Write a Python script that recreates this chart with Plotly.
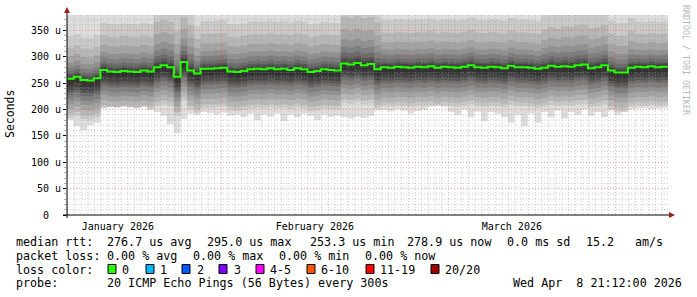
import plotly.graph_objects as go
import pandas as pd

W, H = 697, 297
PX_L, PX_R, PX_T, PX_B = 67, 668, 15, 215

start = pd.Timestamp("2026-01-08 21:12")
end = pd.Timestamp("2026-04-08 21:12")
YMAX = 379

# daily median rtt (microseconds)
median_us = [258, 262, 256, 255, 259, 275, 272, 271, 273, 272,
             271, 274, 272, 280, 284, 280, 262, 290, 274, 268,
             277, 277, 278, 279, 272, 271, 273, 276, 277, 276,
             278, 276, 277, 275, 278, 276, 271, 273, 276, 275,
             274, 287, 285, 288, 284, 286, 276, 280, 279, 281,
             280, 279, 281, 280, 282, 279, 281, 280, 279, 281,
             284, 280, 279, 281, 280, 278, 283, 280, 280, 279,
             277, 279, 283, 281, 282, 281, 284, 285, 278, 280,
             284, 274, 270, 270, 279, 281, 280, 282, 280, 281, 280]

# daily lowest ping (lower edge of the smoke)
min_us = [180, 168, 160, 170, 175, 203, 205, 204, 206, 204,
          203, 205, 200, 195, 188, 172, 155, 182, 192, 190,
          195, 193, 190, 194, 188, 190, 185, 192, 180, 190,
          186, 192, 178, 190, 185, 192, 188, 180, 190, 186,
          188, 185, 183, 186, 184, 188, 198, 199, 196, 200,
          198, 192, 197, 199, 205, 207, 205, 195, 190, 200,
          185, 196, 178, 195, 192, 185, 175, 190, 168, 192,
          175, 195, 185, 198, 183, 195, 190, 200, 188, 195,
          185, 198, 190, 195, 200, 202, 203, 201, 202, 203, 203]

# daily upward spread of the smoke (1.0 = typical)
spread_up = [0.9, 0.9, 0.9, 0.9, 0.9, 1.0, 1.0, 1.0, 1.0, 1.0,
             1.0, 1.0, 1.0, 1.3, 1.3, 1.3, 1.3, 1.3, 1.3, 1.0,
             1.0, 1.0, 1.0, 1.0, 1.0, 1.0, 1.0, 1.0, 1.0, 1.0,
             1.0, 1.0, 1.0, 1.0, 1.0, 1.0, 1.0, 1.0, 1.0, 1.0,
             1.0, 1.35, 1.35, 1.35, 1.35, 1.35, 1.35, 1.0, 1.0, 1.0,
             1.0, 1.0, 1.0, 1.0, 1.0, 1.0, 1.0, 1.0, 1.0, 1.0,
             1.0, 1.0, 1.0, 1.0, 1.0, 1.0, 1.0, 1.0, 1.0, 1.0,
             1.0, 1.1, 1.1, 1.1, 1.15, 1.15, 1.15, 1.15, 1.15, 1.15,
             1.15, 1.05, 1.05, 1.05, 1.05, 0.95, 0.95, 0.95, 0.95, 0.95, 0.95]

# typical ping distribution around the median (us): pings 2..10 below, 11..20 above
lo_offsets = [74, 67, 57, 47, 39, 30, 25, 20, 12]
hi_offsets = [2, 6, 10, 16, 24, 34, 48, 66, 90, 160]

yticks = [0, 50, 100, 150, 200, 250, 300, 350]
ytick_text = ["0\u00a0\u00a0", "50 u", "100 u", "150 u", "200 u", "250 u", "300 u", "350 u"]
month_labels = ["January 2026", "February 2026", "March 2026"]
month_mid = ["2026-01-16 12:00", "2026-02-15 00:00", "2026-03-16 12:00"]
month_starts = ["2026-02-01", "2026-03-01", "2026-04-01"]

stats_line1 = [(16, "median rtt:"), (107, "276.7 us avg"), (207, "295.0 us max"),
               (310, "253.3 us min"), (407, "278.9 us now"), (507, "0.0 ms sd"),
               (586, "15.2"), (635, "am/s")]
stats_line2 = [(16, "packet loss:"), (107, "0.00 % avg"), (193, "0.00 % max"),
               (279, "0.00 % min"), (365, "0.00 % now")]
loss_labels = ["0", "1", "2", "3", "4-5", "6-10", "11-19", "20/20"]
loss_colors = ["#26ff00", "#00b8ff", "#0059ff", "#7e00ff", "#ff00ff", "#ff5500", "#ff0000", "#a00000"]
loss_box_x = [108, 146, 182, 219, 256, 307, 366, 431]
loss_text_x = [122, 160, 197, 234, 270, 321, 380, 445]
probe_text = "20 ICMP Echo Pings (56 Bytes) every 300s"
stamp_text = "Wed Apr  8 21:12:00 2026"

dates = [start + pd.Timedelta(days=d) for d in range(len(median_us))]

# build sorted ping levels per day
n = len(median_us)
pings = [[min_us[i] for i in range(n)]]
for off in lo_offsets:
    pings.append([max(min_us[i], median_us[i] - off) for i in range(n)])
for off in hi_offsets:
    pings.append([median_us[i] + off * spread_up[i] for i in range(n)])

fig = go.Figure()
half = 10
for k in range(1, half + 1):
    g = int(190 / half * (half - k)) + 50
    col = f"rgb({g},{g},{g})"
    lo = pings[k - 1]
    hi = pings[20 - k]
    fig.add_trace(go.Scatter(x=dates, y=lo, mode="lines", line=dict(width=0, shape="hv"),
                             hoverinfo="skip", showlegend=False))
    fig.add_trace(go.Scatter(x=dates, y=hi, mode="lines", line=dict(width=0, shape="hv"),
                             fill="tonexty", fillcolor=col, hoverinfo="skip", showlegend=False))

# grid drawn over the smoke, as in rrdtool
minor_col = "rgba(150,150,150,0.5)"
major_col = "rgba(240,60,60,0.5)"
hx_minor, hy_minor, hx_major, hy_major = [], [], [], []
for v in range(10, YMAX, 10):
    if v % 50:
        hx_minor += [start, end, None]
        hy_minor += [v, v, None]
    else:
        hx_major += [start, end, None]
        hy_major += [v, v, None]
vx_minor, vy_minor, vx_major, vy_major = [], [], [], []
day = pd.Timestamp("2026-01-09")
while day < end:
    if day.strftime("%Y-%m-%d") in month_starts:
        vx_major += [day, day, None]
        vy_major += [-4, YMAX, None]
    else:
        vx_minor += [day, day, None]
        vy_minor += [-4, YMAX, None]
    day += pd.Timedelta(days=1)
for gx, gy, gc in [(hx_minor, hy_minor, minor_col), (vx_minor, vy_minor, minor_col),
                   (hx_major, hy_major, major_col), (vx_major, vy_major, major_col)]:
    fig.add_trace(go.Scatter(x=gx, y=gy, mode="lines", line=dict(color=gc, width=1, dash="1px,2px"),
                             hoverinfo="skip", showlegend=False, cliponaxis=False))

fig.add_trace(go.Scatter(x=dates, y=median_us, mode="lines",
                         line=dict(color="#26ff00", width=2, shape="hv"), showlegend=False))

def px2paper_x(px):
    return (px - PX_L) / (PX_R - PX_L)

def px2paper_y(py):
    return (PX_B - py) / (PX_B - PX_T)

shapes = []
arrow_col = "#a02020"
shapes.append(dict(type="line", xref="paper", yref="paper", x0=0, x1=0, y0=px2paper_y(218), y1=px2paper_y(10),
                   line=dict(color="black", width=1), layer="above"))
shapes.append(dict(type="line", xref="paper", yref="paper", x0=px2paper_x(63), x1=px2paper_x(671),
                   y0=0, y1=0, line=dict(color="black", width=1), layer="above"))
shapes.append(dict(type="path", xref="paper", yref="paper",
                   path=f"M {px2paper_x(64)} {px2paper_y(13)} L {px2paper_x(70)} {px2paper_y(13)} L {px2paper_x(67)} {px2paper_y(7)} Z",
                   fillcolor=arrow_col, line=dict(width=0), layer="above"))
shapes.append(dict(type="path", xref="paper", yref="paper",
                   path=f"M {px2paper_x(669)} {px2paper_y(212)} L {px2paper_x(669)} {px2paper_y(218)} L {px2paper_x(675)} {px2paper_y(215)} Z",
                   fillcolor=arrow_col, line=dict(width=0), layer="above"))

for bx, c in zip(loss_box_x, loss_colors):
    shapes.append(dict(type="rect", xref="paper", yref="paper",
                       x0=px2paper_x(bx), x1=px2paper_x(bx + 8), y0=px2paper_y(264.5), y1=px2paper_y(273.5),
                       fillcolor=c, line=dict(color="black", width=1)))

mono = "DejaVu Sans Mono"
FS = 11.7
annotations = []

def txt(px, py, s, size=FS, color="black", angle=0, xanchor="left"):
    annotations.append(dict(x=px2paper_x(px), y=px2paper_y(py), xref="paper", yref="paper",
                            text=s.replace(" ", "\u00a0"), showarrow=False, xanchor=xanchor, yanchor="middle",
                            textangle=angle, font=dict(family=mono, size=size, color=color), borderpad=0))

for px, s in stats_line1:
    txt(px - 1, 241.5, s)
for px, s in stats_line2:
    txt(px - 1, 255.5, s)
txt(15, 269.5, "loss color:")
for tx, s in zip(loss_text_x, loss_labels):
    txt(tx - 1, 269.5, s)
txt(15, 283, "probe:")
txt(106, 283, probe_text)
txt(512, 283, stamp_text)
txt(10, 114, "Seconds", size=11.5, angle=-90, xanchor="center")
txt(686, 60, "RRDTOOL / TOBI OETIKER", size=8.3, color="#b8b8b8", angle=90, xanchor="center")

fig.update_layout(
    width=W, height=H,
    margin=dict(l=PX_L, r=W - PX_R, t=PX_T, b=H - PX_B, pad=0),
    paper_bgcolor="white", plot_bgcolor="white",
    shapes=shapes, annotations=annotations,
    xaxis=dict(range=[start, end], showgrid=False, zeroline=False, showline=False,
               tickmode="array", tickvals=month_mid, ticktext=month_labels,
               ticks="", ticklabelstandoff=4, tickfont=dict(family=mono, size=10, color="black")),
    yaxis=dict(range=[0, YMAX], showgrid=False, zeroline=False, showline=False,
               tickmode="array", tickvals=yticks, ticktext=ytick_text,
               ticks="outside", ticklen=3, tickcolor="black",
               tickfont=dict(family=mono, size=10, color="black"),
               minor=dict(tickmode="linear", tick0=0, dtick=10, ticks="outside", ticklen=2,
                          tickcolor="#b0b0b0", showgrid=False)),
    showlegend=False,
)

fig.write_html("out.html")
